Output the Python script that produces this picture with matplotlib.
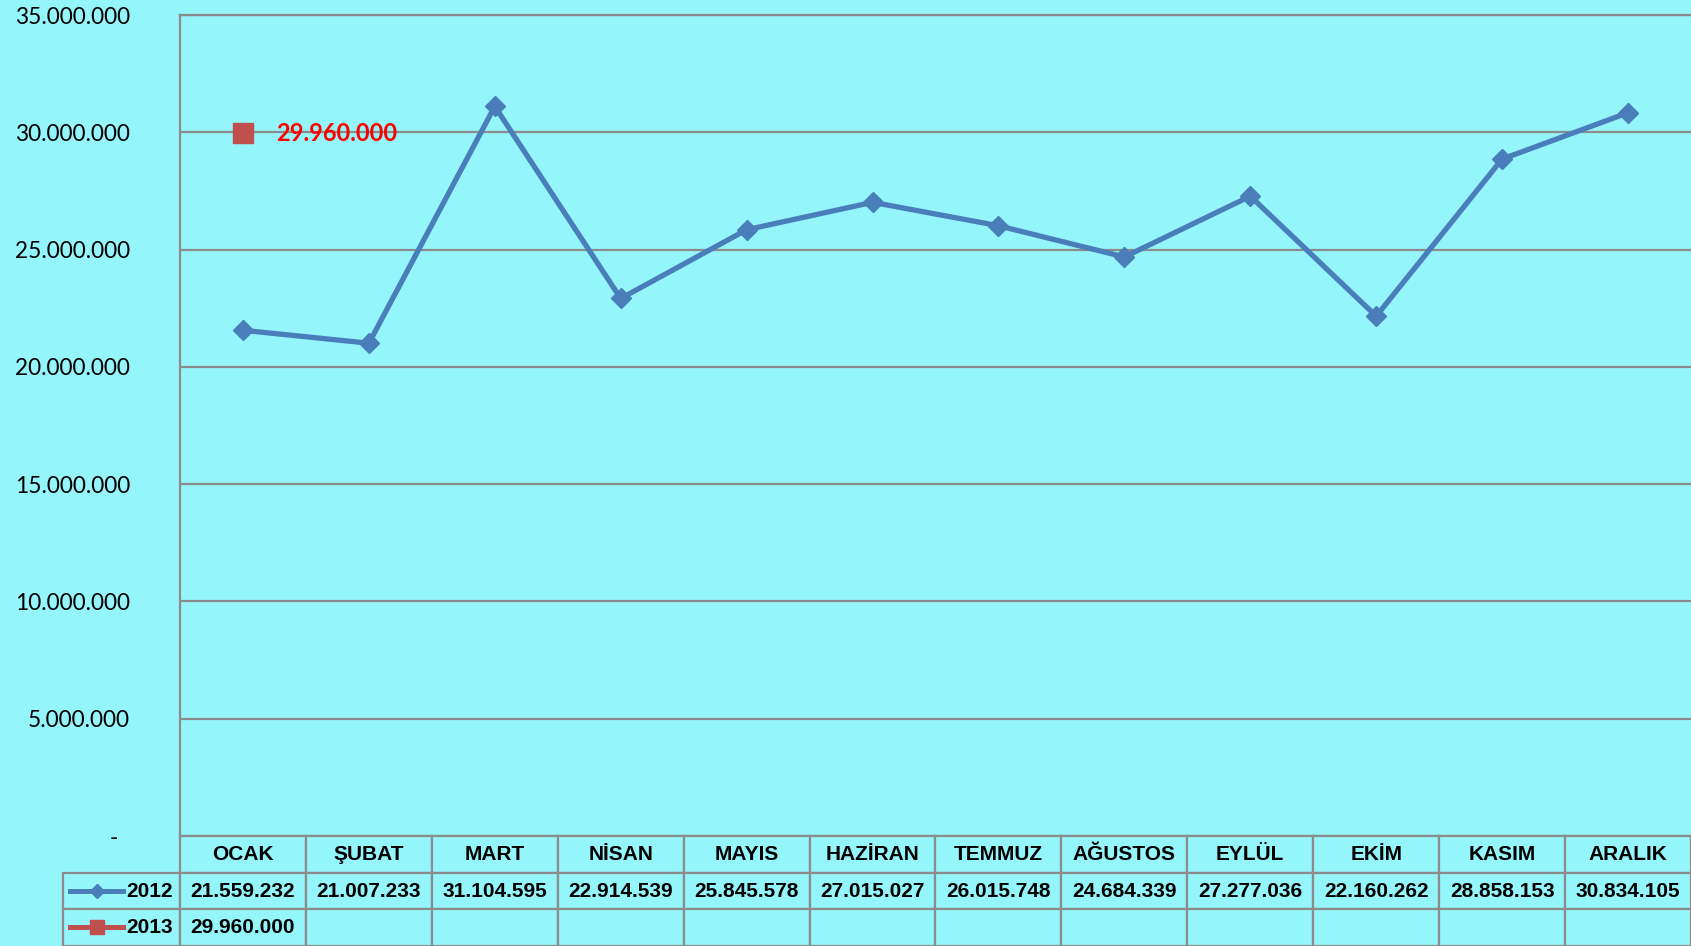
import matplotlib.pyplot as plt
from matplotlib.table import Table
from matplotlib.lines import Line2D
from matplotlib.ticker import FuncFormatter

# data
months = ['OCAK', 'ŞUBAT', 'MART', 'NİSAN', 'MAYIS', 'HAZİRAN',
          'TEMMUZ', 'AĞUSTOS', 'EYLÜL', 'EKİM', 'KASIM', 'ARALIK']
y2012 = [21559232, 21007233, 31104595, 22914539, 25845578, 27015027,
         26015748, 24684339, 27277036, 22160262, 28858153, 30834105]
y2013 = [29960000]
series_names = ['2012', '2013']
yticks = [0, 5000000, 10000000, 15000000, 20000000, 25000000, 30000000, 35000000]

bg = '#94F5FA'
blue = '#4A7EBB'
red = '#C0504D'
grid_col = '#8C8C8C'
tbl_font = ['Liberation Sans Narrow', 'Liberation Sans', 'DejaVu Sans']


def tr_fmt(v, pos=None):
    if v == 0:
        return '-  '
    return f'{int(v):,}'.replace(',', '.')


fig = plt.figure(figsize=(16.91, 9.46), dpi=100, facecolor=bg)
ax = fig.add_axes([180 / 1691, 1 - 836 / 946, 1511 / 1691, 821 / 946])
ax.set_facecolor(bg)

x = list(range(len(months)))
ax.plot(x, y2012, color=blue, lw=3.8, marker='D', ms=10, zorder=3)
ax.plot(x[:len(y2013)], y2013, color=red, lw=3.6, marker='s', ms=14, ls='none', zorder=3)
ax.text(x[0] + 0.26, y2013[0], tr_fmt(y2013[0]), color='#FF0000', fontsize=17,
        fontweight='bold', family='Lato', va='center', ha='left')

ax.set_xlim(-0.5, len(months) - 0.5)
ax.set_ylim(0, 35000000)
ax.set_yticks(yticks)
ax.yaxis.set_major_formatter(FuncFormatter(tr_fmt))
ax.set_xticks([])
ax.tick_params(axis='y', length=0, pad=36, labelsize=16.3)
for lbl in ax.get_yticklabels():
    lbl.set_family('Lato')
ax.grid(axis='y', color=grid_col, lw=1.6)
ax.set_axisbelow(True)
for side in ['right', 'bottom']:
    ax.spines[side].set_visible(False)
for side in ['left', 'top']:
    ax.spines[side].set_color(grid_col)
    ax.spines[side].set_linewidth(1.6)

# data table under the plot (bbox covers the month grid, labels hang to the left)
tb = Table(ax, bbox=[0, -110 / 821, 1, 110 / 821])
cw = 1 / len(months)
lw = (180 - 63) / 1511
rh = 1 / 3
for j, m in enumerate(months):
    tb.add_cell(0, j, cw, rh, text=m, loc='center', facecolor=bg, edgecolor=grid_col)
rows = [y2012, y2013]
for i, vals in enumerate(rows, start=1):
    tb.add_cell(i, -1, lw, rh, text=series_names[i - 1], loc='right', facecolor=bg,
                edgecolor=grid_col)
    for j in range(len(months)):
        txt = tr_fmt(vals[j]) if j < len(vals) else ''
        tb.add_cell(i, j, cw, rh, text=txt, loc='center', facecolor=bg, edgecolor=grid_col)
tb.auto_set_font_size(False)
for (r, c), cell in tb.get_celld().items():
    cell.set_linewidth(1.6)
    cell.PAD = 0.06
    t = cell.get_text()
    t.set_fontsize(15)
    t.set_fontweight('bold')
    t.set_family(tbl_font)
ax.add_table(tb)

# legend keys inside the row-label cells
for i, (col, mk, ms) in enumerate([(blue, 'D', 7.5), (red, 's', 10)]):
    yc = (-36.5 - 18 - 36.5 * i) / 821
    ax.add_line(Line2D([(70 - 180) / 1511, (123 - 180) / 1511], [yc, yc],
                       transform=ax.transAxes, color=col, lw=3.6, clip_on=False))
    ax.add_line(Line2D([(96.5 - 180) / 1511], [yc], transform=ax.transAxes, color=col,
                       marker=mk, ms=ms, clip_on=False))

fig.savefig('out.png', dpi=100, facecolor=bg)
